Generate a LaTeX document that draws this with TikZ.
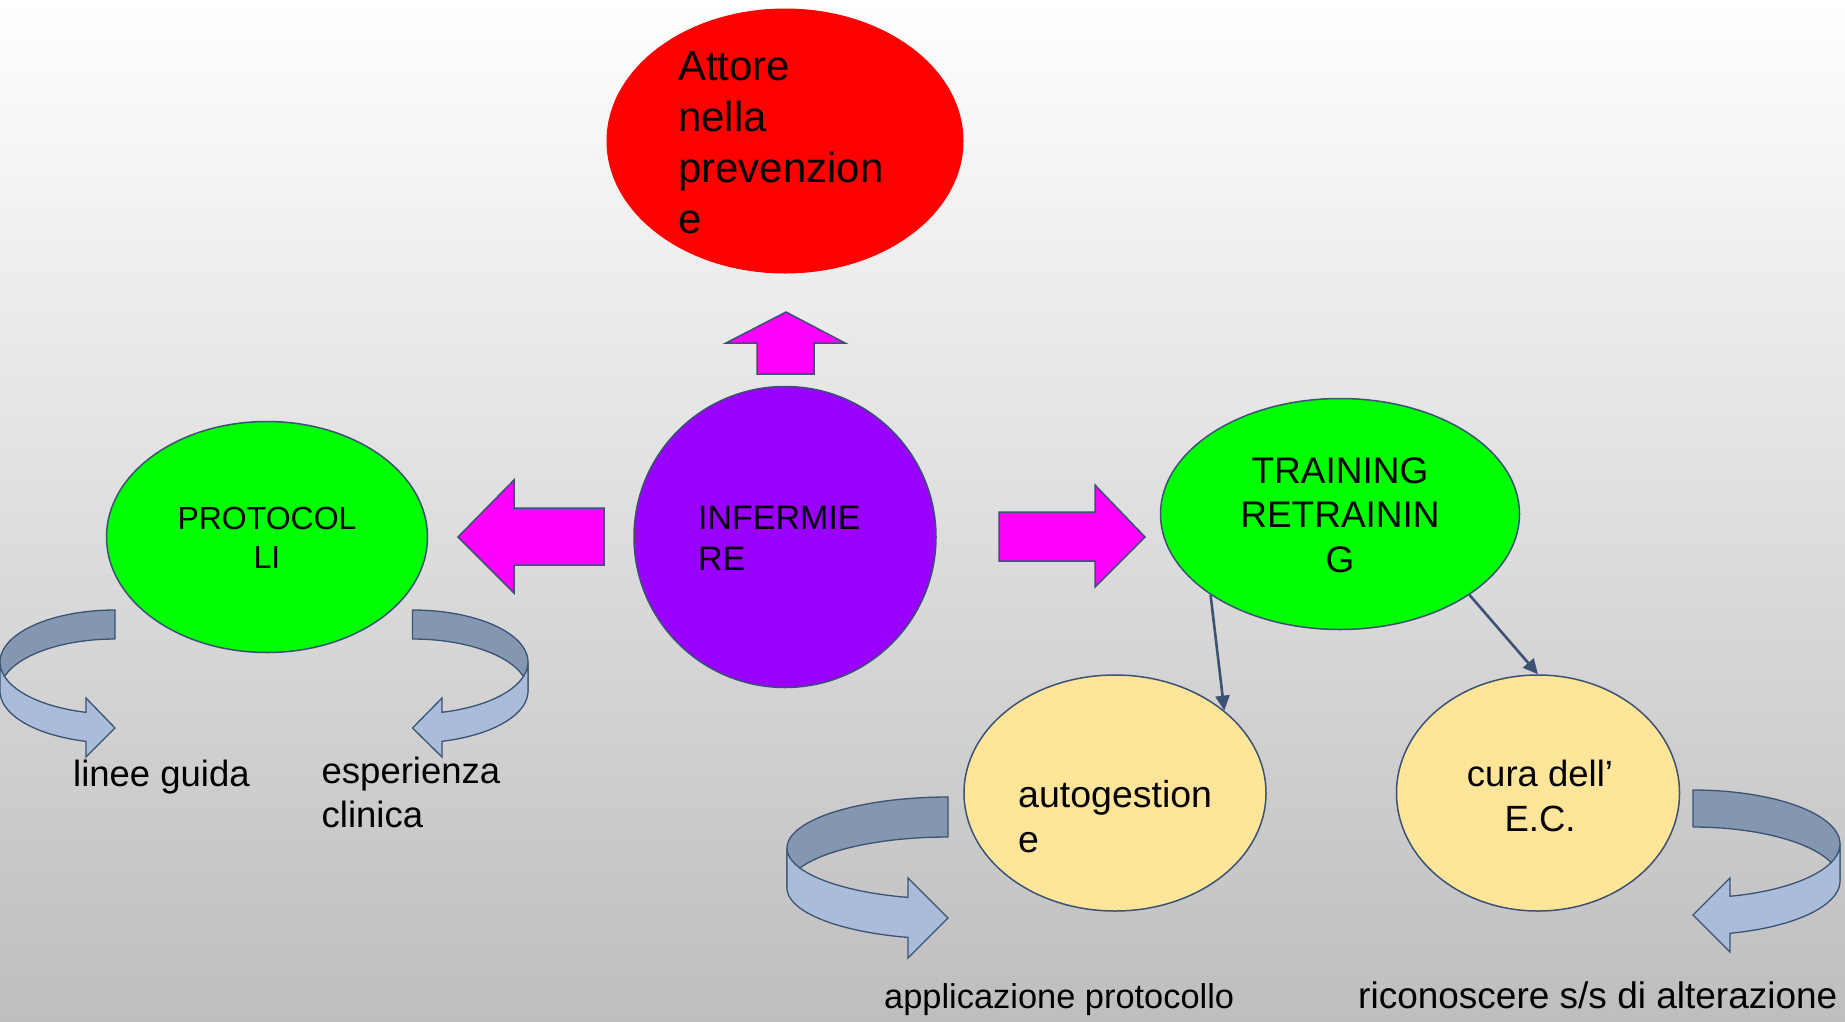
\documentclass[tikz,border=0pt]{standalone}
\usepackage{fontspec}
\setmainfont{Liberation Sans}
\usetikzlibrary{arrows.meta,shapes.geometric}
\definecolor{outl}{HTML}{3B5274}
\definecolor{magentaA}{HTML}{FF00FF}
\definecolor{redA}{HTML}{FF0000}
\definecolor{purpleA}{HTML}{9900FF}
\definecolor{greenA}{HTML}{00FF00}
\definecolor{yellowA}{HTML}{FFE599}
\definecolor{cadark}{HTML}{8497B0}
\definecolor{calight}{HTML}{A9BDDA}
\definecolor{bgmid}{HTML}{E6E6E6}
\definecolor{bgbot}{HTML}{BEBEBE}
\newcommand{\mlines}[2]{\begin{tabular}[t]{@{}#1@{}}#2\end{tabular}}
\newcommand{\fsz}[2]{\fontsize{#1}{#2}\selectfont}
\begin{document}
\begin{tikzpicture}[x=1pt,y=-1pt,
  lbl/.style={inner sep=0pt, text=black},
  oval/.style={ellipse, draw=outl, line width=1.5pt, inner sep=0pt},
  block/.style={fill=magentaA, draw=outl, line width=1.5pt, line join=miter},
  back/.style={fill=cadark, draw=outl, line width=1.3pt, line join=round},
  front/.style={fill=calight, draw=outl, line width=1.3pt, line join=miter},
  conn/.style={draw=outl, line width=2.6pt, -{Triangle[length=15pt,width=14pt]}}
]
\useasboundingbox (0,0) rectangle (1845,1021);
\shade[top color=white, middle color=bgmid, bottom color=bgbot] (0,0) rectangle (1845,1021);

% ellipses
\node[oval, draw=none, fill=redA, minimum width=357pt, minimum height=265pt] (attore) at (785,141) {};
\node[oval, fill=purpleA, minimum width=302pt, minimum height=301pt] (inf) at (785,537) {};
\node[oval, fill=greenA, minimum width=321pt, minimum height=231pt] (prot) at (267,537) {};
\node[oval, fill=greenA, minimum width=359pt, minimum height=231pt] (train) at (1340,514) {};
\node[oval, fill=yellowA, minimum width=302pt, minimum height=236pt] (auto) at (1115,793) {};
\node[oval, fill=yellowA, minimum width=283pt, minimum height=236pt] (cura) at (1538,793) {};

% block arrows
\path[block] (757,374) -- (757,343) -- (726,343) -- (786,312) -- (845,343) -- (814,343) -- (814,374) -- cycle;
\path[block] (604,508) -- (514,508) -- (514,480) -- (458,537) -- (514,593) -- (514,565) -- (604,565) -- cycle;
\path[block] (999,512) -- (1095,512) -- (1095,485) -- (1145,537) -- (1095,587) -- (1095,561) -- (999,561) -- cycle;

% curved arrow 1 (linee guida)
\path[back] plot[domain=-90:-180,samples=40,variable=\t] ({115+115*cos(\t)},{662+52*sin(\t)})
  -- plot[domain=-180:-90,samples=40,variable=\t] ({115+115*cos(\t)},{691+52*sin(\t)}) -- cycle;
\path[front] plot[domain=180:104.6,samples=40,variable=\t] ({115+115*cos(\t)},{662+52*sin(\t)})
  -- (86,698) -- (115,728) -- (86,757)
  -- plot[domain=104.6:180,samples=40,variable=\t] ({115+115*cos(\t)},{691+52*sin(\t)}) -- cycle;

% curved arrow 2 (esperienza clinica)
\path[back] plot[domain=-90:0,samples=40,variable=\t] ({412.5+115.5*cos(\t)},{662+52*sin(\t)})
  -- plot[domain=0:-90,samples=40,variable=\t] ({412.5+115.5*cos(\t)},{691+52*sin(\t)}) -- cycle;
\path[front] plot[domain=0:75.2,samples=40,variable=\t] ({412.5+115.5*cos(\t)},{662+52*sin(\t)})
  -- (442,698) -- (412.5,728) -- (442,757)
  -- plot[domain=75.2:0,samples=40,variable=\t] ({412.5+115.5*cos(\t)},{691+52*sin(\t)}) -- cycle;

% curved arrow 3 (applicazione protocollo)
\path[back] plot[domain=-90:-180,samples=40,variable=\t] ({948+161*cos(\t)},{848+51*sin(\t)})
  -- plot[domain=-180:-90,samples=40,variable=\t] ({948+161*cos(\t)},{888+51*sin(\t)}) -- cycle;
\path[front] plot[domain=180:104.4,samples=40,variable=\t] ({948+161*cos(\t)},{848+51*sin(\t)})
  -- (908,878) -- (948,918) -- (908,958)
  -- plot[domain=104.4:180,samples=40,variable=\t] ({948+161*cos(\t)},{888+51*sin(\t)}) -- cycle;

% curved arrow 4 (riconoscere)
\path[back] plot[domain=-90:0,samples=40,variable=\t] ({1693+147*cos(\t)},{844+54*sin(\t)})
  -- plot[domain=0:-90,samples=40,variable=\t] ({1693+147*cos(\t)},{881+54*sin(\t)}) -- cycle;
\path[front] plot[domain=0:75.4,samples=40,variable=\t] ({1693+147*cos(\t)},{844+54*sin(\t)})
  -- (1730,878) -- (1693,915) -- (1730,952)
  -- plot[domain=75.4:0,samples=40,variable=\t] ({1693+147*cos(\t)},{881+54*sin(\t)}) -- cycle;

% connectors
\draw[conn] (train.212.5) -- (auto.37);
\draw[conn] (train.-32.5) -- (cura.north);

% texts
\node[lbl, anchor=base west, font=\fsz{42}{51}] (tattore) at (678,80) {\mlines{l}{Attore\\nella\\prevenzion\\e}};
\node[lbl, anchor=base west, font=\fsz{34}{41}] (tinf) at (698,529) {\mlines{l}{INFERMIE\\RE}};
\node[lbl, anchor=base, font=\fsz{32}{39}] (tprot) at (267,529) {\mlines{c}{PROTOCOL\\LI}};
\node[lbl, anchor=base, font=\fsz{37}{44.5}] (ttrain) at (1340,483) {\mlines{c}{TRAINING\\RETRAININ\\G}};
\node[lbl, anchor=base west, font=\fsz{37.5}{45}] (tauto) at (1018,807) {\mlines{l}{autogestion\\e}};
\node[lbl, anchor=base, font=\fsz{36.5}{45}] (tcura) at (1540,786) {\mlines{c}{cura dell’\\E.C.}};
\node[lbl, anchor=base west, font=\fsz{36.5}{44}] (tlinee) at (73,786) {linee guida};
\node[lbl, anchor=base west, font=\fsz{36.5}{44}] (tesp) at (321.5,783) {\mlines{l}{esperienza\\clinica}};
\node[lbl, anchor=base west, font=\fsz{34.4}{41}] (tappl) at (884,1008) {applicazione protocollo};
\node[lbl, anchor=base west, font=\fsz{37}{44}] (tric) at (1358,1008) {riconoscere s/s di alterazione};
\end{tikzpicture}
\end{document}
